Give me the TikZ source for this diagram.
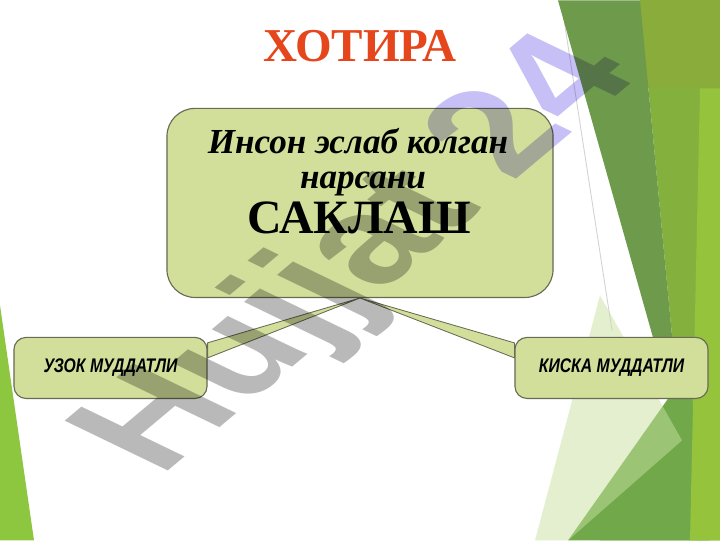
\documentclass[tikz,border=0pt]{standalone}
\usepackage{fontspec}
\setmainfont{Liberation Serif}
\newfontfamily\narrowsans[FakeStretch=0.8]{Liberation Sans}
\newfontfamily\marksans{Liberation Sans}
\usepackage{tikz}
\usetikzlibrary{calc, shapes, arrows}

\definecolor{boxgreen}{RGB}{210,223,155}
\definecolor{boxline}{RGB}{105,105,85}
\definecolor{titlered}{RGB}{229,70,27}
\definecolor{darkband}{RGB}{110,155,75}
\definecolor{midgreen}{RGB}{132,176,62}
\definecolor{olivetop}{RGB}{138,172,58}
\definecolor{lowgreen}{RGB}{112,168,74}
\definecolor{limegreen}{RGB}{150,195,60}
\definecolor{palegreen}{RGB}{200,225,160}
\definecolor{leftlime}{RGB}{141,198,63}
\definecolor{markgray}{RGB}{185,185,185}
\definecolor{marklav}{RGB}{198,192,246}

\pgfdeclarelayer{decor}
\pgfdeclarelayer{links}
\pgfsetlayers{decor,links,main}

\begin{document}
\begin{tikzpicture}[x=0.025cm, y=-0.025cm]
\tikzstyle{mainbox}=[draw=boxline, fill=boxgreen, line width=0.8pt, rounded corners=0.7cm, minimum width=9.65cm, minimum height=4.725cm, inner sep=0pt]
\tikzstyle{subbox}=[draw=boxline, fill=boxgreen, line width=0.8pt, rounded corners=0.3cm, minimum width=4.825cm, minimum height=1.525cm, inner sep=0pt, font=\narrowsans\bfseries\itshape\fontsize{14}{16}\selectfont]
\tikzstyle{link}=[fill=boxgreen, draw=boxline, line width=0.6pt]
\tikzstyle{line}=[anchor=base, font=\bfseries\itshape\fontsize{25}{28}\selectfont]

\begin{pgfonlayer}{decor}
\fill[white] (0,0) rectangle (720,540);
\draw[black!18, line width=0.6pt] (561,0) -- (612,330);
\fill[midgreen] (640,0) -- (720,0) -- (720,540) -- (600,540) -- (682,440) -- cycle;
\fill[olivetop] (640,0) rectangle (720,88);
\fill[darkband] (558,0) -- (640,0) -- (682,440) -- cycle;
\fill[lowgreen] (568,540) -- (688,370) -- (710,540) -- cycle;
\fill[limegreen] (700,88) -- (720,88) -- (720,540) -- (690,540) -- cycle;
\fill[palegreen, opacity=0.5] (600,295) -- (682,440) -- (568,540) -- (535,540) -- cycle;
\fill[leftlime] (0,305) -- (34,540) -- (0,540) -- cycle;
\end{pgfonlayer}

\node[text=titlered, font=\bfseries\fontsize{33.5}{38}\selectfont] (T_0) at (360,46) {ХОТИРА};

\node[mainbox] (M_0) at (360,202.5) {};
\node[line] (M_0a) at (358,153) {Инсон эслаб колган};
\node[line] (M_0b) at (363,188) {нарсани};
\node[anchor=base, font=\bfseries\fontsize{34}{40}\selectfont] (M_0c) at (359,233) {САКЛАШ};

\node[subbox] (M_1) at (110.5,367.5) {УЗОК МУДДАТЛИ};
\node[subbox] (M_2) at (611.5,367.5) {КИСКА МУДДАТЛИ};

\begin{pgfonlayer}{links}
\draw[link] (M_0.south) -- ($(M_1.north east)+(0,6)$) -- ($(M_1.north east)+(0,21)$) -- cycle;
\draw[link] (M_0.south) -- ($(M_2.north west)+(0,6)$) -- ($(M_2.north west)+(0,21)$) -- cycle;
\end{pgfonlayer}

\node[anchor=west, text=markgray, blend mode=multiply, rotate=40, xslant=-0.45, transform shape, font=\marksans\bfseries\fontsize{108}{112}\selectfont] (W_0) at (118,462) {Hujjat\hspace{0.25em}\textcolor{marklav}{24}};
\end{tikzpicture}
\end{document}
